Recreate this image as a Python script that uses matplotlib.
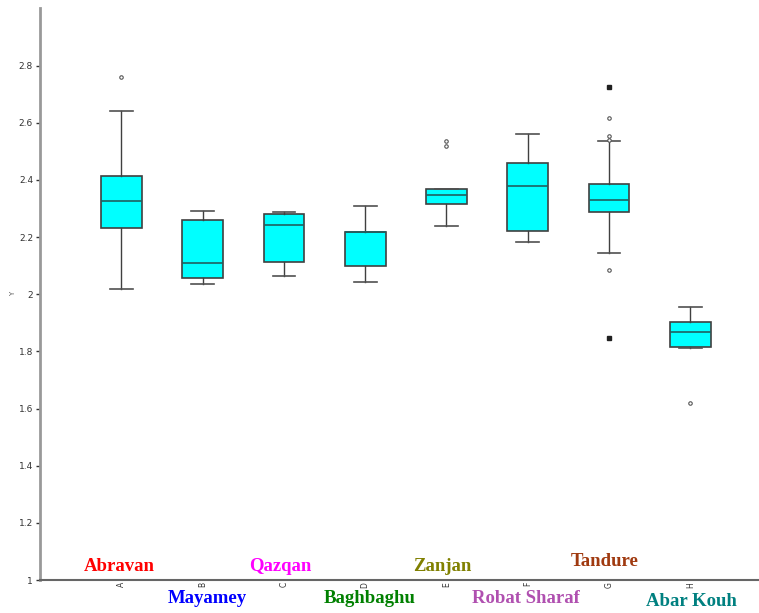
import matplotlib
matplotlib.use("Agg")
import matplotlib.pyplot as plt

# --- DATA ---
groups = ["A", "B", "C", "D", "E", "F", "G", "H"]
sites = ["Abravan", "Mayamey", "Qazqan", "Baghbaghu", "Zanjan",
         "Robat Sharaf", "Tandure", "Abar Kouh"]
site_colors = ["#ff0000", "#0000ff", "#ff00ff", "#008000", "#808000",
               "#b050b0", "#a03a10", "#008080"]

whislo = [2.017, 2.036, 2.063, 2.042, 2.239, 2.182, 2.145, 1.811]
q1 = [2.232, 2.058, 2.114, 2.097, 2.315, 2.221, 2.287, 1.815]
med = [2.325, 2.108, 2.241, 2.219, 2.347, 2.378, 2.331, 1.869]
q3 = [2.415, 2.260, 2.282, 2.219, 2.367, 2.458, 2.384, 1.902]
whishi = [2.642, 2.290, 2.286, 2.310, 2.367, 2.560, 2.536, 1.956]

outliers = [[2.759], [], [], [], [2.536, 2.518], [],
            [2.617, 2.554, 2.540, 2.083], [1.619]]
extremes = [[], [], [], [], [], [], [2.726, 1.847], []]

# label placement (x offset from group, y in data units)
label_dx = [-0.03, 0.06, -0.05, 0.06, -0.05, -0.02, -0.05, 0.01]
label_y = [1.049, 0.937, 1.049, 0.937, 1.049, 0.934, 1.066, 0.925]

# --- FIGURE ---
fig = plt.figure(figsize=(7.59, 6.13), dpi=100)
ax = fig.add_axes([0.0527, 0.0538, 0.9473, 0.9325])

pos = list(range(1, len(groups) + 1))
stats = []
for i in range(len(groups)):
    stats.append(dict(med=med[i], q1=q1[i], q3=q3[i],
                      whislo=whislo[i], whishi=whishi[i], fliers=[]))

ax.bxp(stats, positions=pos, widths=0.5, patch_artist=True, showfliers=False,
       boxprops=dict(facecolor="#00ffff", edgecolor="#404040", linewidth=1.2),
       medianprops=dict(color="#206060", linewidth=1.2),
       whiskerprops=dict(color="#404040", linewidth=1.0),
       capprops=dict(color="#505050", linewidth=1.2),
       capwidths=0.28)

for p, vals in zip(pos, outliers):
    if vals:
        ax.plot([p] * len(vals), vals, "o", ms=2.5, mfc="white",
                mec="#555555", mew=0.8, ls="none")
for p, vals in zip(pos, extremes):
    if vals:
        ax.plot([p] * len(vals), vals, "s", ms=2.8, mfc="#202020",
                mec="#202020", ls="none")

for p, name, col, dx, yy in zip(pos, sites, site_colors, label_dx, label_y):
    ax.text(p + dx, yy, name, color=col, fontsize=13.5, fontweight="bold",
            family="Liberation Serif", ha="center", va="center", clip_on=False)

ax.set_xlim(0, 8.844)
ax.set_ylim(1.0, 3.0)
ax.set_xticks(pos)
ax.set_xticklabels(groups, rotation=90, fontsize=5.5, color="#333333")
ax.set_yticks([1, 1.2, 1.4, 1.6, 1.8, 2, 2.2, 2.4, 2.6, 2.8])
ax.set_yticklabels(["1", "1.2", "1.4", "1.6", "1.8", "2", "2.2", "2.4", "2.6", "2.8"],
                   fontsize=6.5, color="#333333")
ax.tick_params(axis="y", length=3, width=1, color="#333333", pad=2)
ax.tick_params(axis="x", length=0, pad=1.5)
ax.set_ylabel("Y", fontsize=5, color="#555555", va="center")
ax.yaxis.set_label_coords(-0.0375, 0.5)

ax.spines["top"].set_visible(False)
ax.spines["right"].set_visible(False)
ax.spines["left"].set_color("#999999")
ax.spines["left"].set_linewidth(2)
ax.spines["bottom"].set_color("#666666")
ax.spines["bottom"].set_linewidth(1.5)

fig.savefig("out.png", dpi=100)
